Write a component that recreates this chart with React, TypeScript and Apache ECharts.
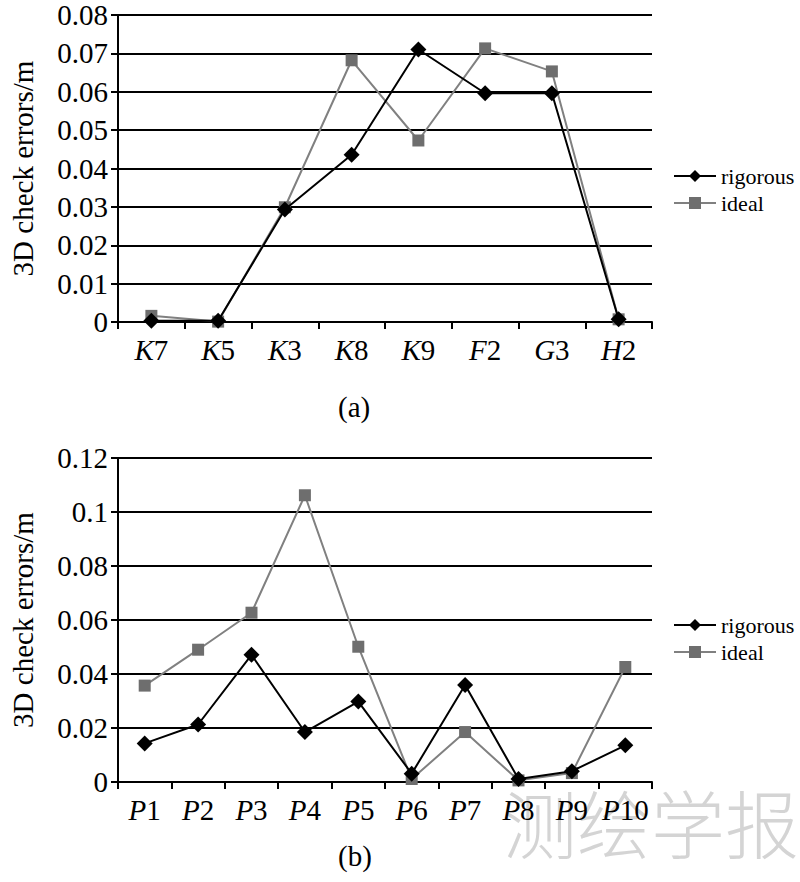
import React, { useEffect, useRef } from "react";
import * as echarts from "echarts";

const catsA = ["K7", "K5", "K3", "K8", "K9", "F2", "G3", "H2"];
const rigorousA = [0.0003, 0.0003, 0.0293, 0.0436, 0.071, 0.0596, 0.0596, 0.0007];
const idealA = [0.0016, 0.0001, 0.0299, 0.0682, 0.0473, 0.0713, 0.0653, 0.0007];

const catsB = ["P1", "P2", "P3", "P4", "P5", "P6", "P7", "P8", "P9", "P10"];
const rigorousB = [0.0143, 0.0213, 0.0471, 0.0185, 0.0298, 0.0031, 0.0359, 0.0011, 0.004, 0.0136];
const idealB = [0.0357, 0.049, 0.0627, 0.1062, 0.0501, 0.0011, 0.0185, 0.0006, 0.0033, 0.0426];

const yTicksA = { min: 0, max: 0.08, interval: 0.01 };
const yTicksB = { min: 0, max: 0.12, interval: 0.02 };

const SERIF = "Liberation Serif";

export default function App() {
  const ref = useRef<HTMLDivElement>(null);
  useEffect(() => {
    if (!ref.current) return;
    const chart = echarts.init(ref.current, undefined, { renderer: "svg" });
    const catFmt = (v: string) => `{i|${v[0]}}{n|${v.slice(1)}}`;
    const xCommon = {
      type: "category" as const,
      boundaryGap: true,
      axisLine: { lineStyle: { color: "#000", width: 2 } },
      axisTick: { show: true, inside: false, length: 7, lineStyle: { color: "#000", width: 2 } },
      axisLabel: {
        margin: 13,
        interval: 0,
        fontFamily: SERIF,
        fontSize: 29,
        formatter: catFmt,
        rich: {
          i: { fontFamily: SERIF, fontStyle: "italic", fontSize: 29, color: "#000" },
          n: { fontFamily: SERIF, fontSize: 29, color: "#000" },
        },
      },
    };
    const yCommon = {
      type: "value" as const,
      name: "3D check errors/m",
      nameLocation: "middle" as const,
      nameGap: 81,
      nameTextStyle: { fontFamily: SERIF, fontSize: 29, color: "#000" },
      axisLine: { show: true, lineStyle: { color: "#000", width: 2 } },
      axisTick: { show: true, inside: false, length: 7, lineStyle: { color: "#000", width: 2 } },
      axisLabel: { margin: 10, fontFamily: SERIF, fontSize: 29, color: "#000" },
      splitLine: { show: true, lineStyle: { color: "#000", width: 2 } },
    };
    const rigStyle = {
      type: "line" as const,
      name: "rigorous",
      symbol: "diamond",
      symbolSize: 16,
      itemStyle: { color: "#000" },
      lineStyle: { color: "#000", width: 2 },
      z: 3,
    };
    const idStyle = {
      type: "line" as const,
      name: "ideal",
      symbol: "rect",
      symbolSize: 12,
      itemStyle: { color: "#6e6e6e" },
      lineStyle: { color: "#808080", width: 2 },
      z: 2,
    };
    const legendCommon = {
      orient: "vertical" as const,
      left: 668,
      itemWidth: 42,
      itemHeight: 15,
      itemGap: 5,
      textStyle: { fontFamily: SERIF, fontSize: 22, color: "#000" },
      data: ["rigorous", "ideal"],
    };
    chart.setOption({
      animation: false,
      backgroundColor: "#fff",
      grid: [
        { left: 113, right: 148, top: 15, height: 307 },
        { left: 113, right: 148, top: 458, height: 324 },
      ],
      xAxis: [
        { ...xCommon, gridIndex: 0, data: catsA },
        { ...xCommon, gridIndex: 1, data: catsB },
      ],
      yAxis: [
        { ...yCommon, gridIndex: 0, ...yTicksA },
        { ...yCommon, gridIndex: 1, ...yTicksB },
      ],
      legend: [
        { ...legendCommon, top: 160 },
        { ...legendCommon, top: 609 },
      ],
      series: [
        { ...rigStyle, xAxisIndex: 0, yAxisIndex: 0, data: rigorousA },
        { ...idStyle, xAxisIndex: 0, yAxisIndex: 0, data: idealA },
        { ...rigStyle, xAxisIndex: 1, yAxisIndex: 1, data: rigorousB },
        { ...idStyle, xAxisIndex: 1, yAxisIndex: 1, data: idealB },
      ],
      graphic: [
        {
          type: "text",
          left: 338,
          top: 392,
          style: { text: "(a)", fontFamily: SERIF, fontSize: 29, fill: "#000" },
        },
        {
          type: "text",
          left: 338,
          top: 841,
          style: { text: "(b)", fontFamily: SERIF, fontSize: 29, fill: "#000" },
        },
        {
          type: "text",
          left: 503,
          top: 783,
          z: -1,
          silent: true,
          style: {
            text: "测绘学报",
            fontFamily: "Noto Sans CJK SC",
            fontWeight: 300,
            fontSize: 74,
            fill: "rgba(160,160,160,0.45)",
          },
        },
      ],
    });
    return () => chart.dispose();
  }, []);
  return (
    <div
      ref={ref}
      style={{ width: 800, height: 882, position: "absolute", left: 0, top: 0 }}
    />
  );
}
